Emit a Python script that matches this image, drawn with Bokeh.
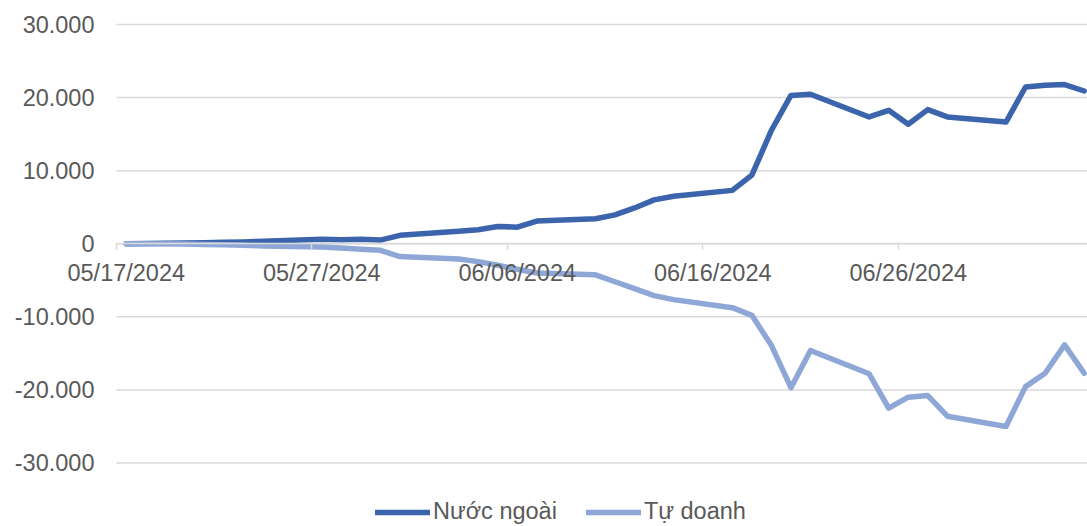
from datetime import date
from bokeh.plotting import figure
from bokeh.models import FixedTicker, Range1d
from bokeh.embed import file_html
from bokeh.resources import INLINE

# ---------------- data ----------------
dates = ["05/17/2024", "05/20/2024", "05/21/2024", "05/22/2024", "05/23/2024", "05/24/2024",
         "05/27/2024", "05/28/2024", "05/29/2024", "05/30/2024", "05/31/2024",
         "06/03/2024", "06/04/2024", "06/05/2024", "06/06/2024", "06/07/2024",
         "06/10/2024", "06/11/2024", "06/12/2024", "06/13/2024", "06/14/2024",
         "06/17/2024", "06/18/2024", "06/19/2024", "06/20/2024", "06/21/2024",
         "06/24/2024", "06/25/2024", "06/26/2024", "06/27/2024", "06/28/2024",
         "07/01/2024", "07/02/2024", "07/03/2024", "07/04/2024", "07/05/2024"]

nuoc_ngoai = [0, 100, 150, 200, 250, 350,
              600, 550, 600, 500, 1150,
              1700, 1920, 2370, 2270, 3100,
              3420, 3950, 4900, 6000, 6500,
              7300, 9400, 15500, 20300, 20450,
              17350, 18250, 16350, 18350, 17350,
              16650, 21450, 21680, 21780, 20900]

tu_doanh = [0, -50, -100, -150, -200, -300,
            -450, -600, -750, -900, -1750,
            -2100, -2450, -2950, -3500, -4000,
            -4250, -5200, -6150, -7100, -7650,
            -8750, -9800, -13900, -19700, -14600,
            -17800, -22500, -21000, -20780, -23600,
            -25000, -19550, -17730, -13840, -17730]

series_names = ["Nước ngoài", "Tự doanh"]
series_colors = ["#3B64AD", "#8FA7D7"]

x_tick_labels = ["05/17/2024", "05/27/2024", "06/06/2024", "06/16/2024", "06/26/2024"]
y_ticks = [-30000, -20000, -10000, 0, 10000, 20000, 30000]
y_tick_labels = ["-30.000", "-20.000", "-10.000", "0", "10.000", "20.000", "30.000"]

# ---------------- helpers ----------------
start = date(2024, 5, 17)


def to_day(s):
    m, d, y = map(int, s.split("/"))
    return (date(y, m, d) - start).days


x = [to_day(s) + 0.5 for s in dates]
x_bounds = [to_day(s) for s in x_tick_labels]
x_centers = [b + 0.5 for b in x_bounds]

FONT = "Liberation Sans"
TXT = "#595959"
GRID = "#D9D9D9"
FS = "23.5px"

X0, X1 = -5.934, 49.67
p = figure(width=1087, height=526,
           x_range=Range1d(X0, X1), y_range=Range1d(-38693, 33284),
           output_backend="svg", toolbar_location=None,
           min_border_left=0, min_border_right=0,
           min_border_top=0, min_border_bottom=0)
p.outline_line_color = None
p.background_fill_color = "white"
p.border_fill_color = "white"
p.xgrid.grid_line_color = None
p.ygrid.grid_line_color = None

# horizontal gridlines, starting at the left edge of the plotting area (day 0)
p.segment(x0=[0] * len(y_ticks), x1=[X1] * len(y_ticks), y0=y_ticks, y1=y_ticks,
          line_color=GRID, line_width=1.5)

# y axis drawn at the left edge of the plotting area
p.yaxis.fixed_location = 0
p.yaxis.ticker = FixedTicker(ticks=y_ticks)
p.yaxis.major_label_overrides = {t: l for t, l in zip(y_ticks, y_tick_labels)}
p.yaxis.axis_line_color = None
p.yaxis.major_tick_line_color = None
p.yaxis.minor_tick_line_color = None
p.yaxis.major_tick_out = 0
p.yaxis.major_tick_in = 0
p.yaxis.major_label_standoff = 22
p.yaxis.major_label_text_font = FONT
p.yaxis.major_label_text_font_size = FS
p.yaxis.major_label_text_color = TXT

# x axis at zero
p.xaxis.fixed_location = 0
p.xaxis.bounds = (0, X1)
p.xaxis.ticker = FixedTicker(ticks=x_centers, minor_ticks=x_bounds)
p.xaxis.major_label_overrides = {c: l for c, l in zip(x_centers, x_tick_labels)}
p.xaxis.axis_line_color = GRID
p.xaxis.axis_line_width = 1.5
p.xaxis.major_tick_line_color = None
p.xaxis.major_tick_out = 0
p.xaxis.major_tick_in = 0
p.xaxis.minor_tick_line_color = GRID
p.xaxis.minor_tick_line_width = 1.5
p.xaxis.minor_tick_out = 6
p.xaxis.minor_tick_in = 0
p.xaxis.major_label_standoff = 10
p.xaxis.major_label_text_font = FONT
p.xaxis.major_label_text_font_size = FS
p.xaxis.major_label_text_color = TXT

for ys, name, col in zip([nuoc_ngoai, tu_doanh], series_names, series_colors):
    p.line(x, ys, line_color=col, line_width=5.5,
           line_cap="round", line_join="round", legend_label=name)

lg = p.legend[0]
lg.orientation = "horizontal"
lg.location = (375, 1)
lg.padding = 0
lg.margin = 0
lg.spacing = 29
lg.glyph_width = 55
lg.glyph_height = 24
lg.label_height = 24
lg.label_standoff = 3
lg.label_text_font = FONT
lg.label_text_font_size = FS
lg.label_text_color = TXT
lg.border_line_color = None
lg.background_fill_alpha = 0

open("out.html", "w").write(file_html(p, INLINE))
